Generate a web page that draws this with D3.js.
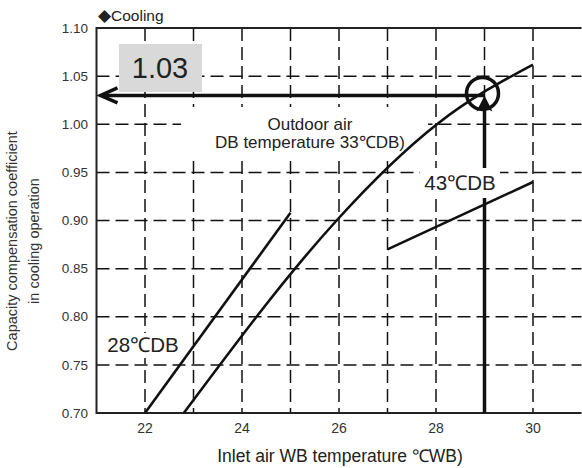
<!DOCTYPE html>
<html>
<head>
<meta charset="utf-8">
<script src="https://cdn.jsdelivr.net/npm/d3@7"></script>
<style>
  body { margin: 0; background: #fff; }
  text { font-family: "Liberation Sans", Arial, sans-serif; }
</style>
</head>
<body>
<div id="chart"></div>
<script>
// values
const xTicks = [22, 24, 26, 28, 30];
const xGrid = [22, 23, 24, 25, 26, 27, 28, 29, 30];
const yTicks = [0.70, 0.75, 0.80, 0.85, 0.90, 0.95, 1.00, 1.05, 1.10];
const curve28 = [[22, 0.70], [25, 0.908]];
const curve33 = [[22.8, 0.70], [24.3, 0.80], [25.95, 0.90], [28.02, 1.00], [30, 1.062]];
const curve43 = [[27, 0.870], [30, 0.940]];
const readWB = 29;
const readCoef = 1.03;

const width = 582, height = 468;

const svg = d3.select("#chart").append("svg")
	.attr("width", width)
	.attr("height", height);

const x = d3.scaleLinear().domain([21, 31]).range([96.5, 581.5]);
const y = d3.scaleLinear().domain([0.70, 1.10]).range([413, 28]);

// dashed grid
svg.append("g")
	.selectAll("line")
	.data(xGrid)
	.join("line")
	.attr("x1", d => x(d)).attr("x2", d => x(d))
	.attr("y1", y(1.10)).attr("y2", y(0.70))
	.attr("stroke", "#111")
	.attr("stroke-width", 1.5)
	.attr("stroke-dasharray", "13,6");

svg.append("g")
	.selectAll("line")
	.data(yTicks.filter(d => d > 0.70 && d < 1.10))
	.join("line")
	.attr("x1", x(21)).attr("x2", x(31))
	.attr("y1", d => y(d)).attr("y2", d => y(d))
	.attr("stroke", "#111")
	.attr("stroke-width", 1.5)
	.attr("stroke-dasharray", "13,6");

// frame: left, bottom, top
svg.append("path")
	.attr("d", `M${x(31)},${y(1.10)}H${x(21)}V${y(0.70)}H${x(31)}`)
	.attr("fill", "none")
	.attr("stroke", "#222")
	.attr("stroke-width", 2);

// tick labels
svg.append("g")
	.selectAll("text")
	.data(yTicks)
	.join("text")
	.attr("x", 88)
	.attr("y", d => y(d))
	.attr("dy", "0.35em")
	.attr("text-anchor", "end")
	.attr("fill", "#333")
	.style("font-size", "13.5px")
	.text(d3.format(".2f"));

svg.append("g")
	.selectAll("text")
	.data(xTicks)
	.join("text")
	.attr("x", d => x(d))
	.attr("y", 433)
	.attr("text-anchor", "middle")
	.attr("fill", "#333")
	.style("font-size", "14px")
	.text(d => d);

// reading arrows
const ax = x(readWB), ay = y(readCoef);
svg.append("line")
	.attr("x1", ax).attr("x2", ax)
	.attr("y1", y(0.70)).attr("y2", ay + 12)
	.attr("stroke", "#111").attr("stroke-width", 3.5);
svg.append("path")
	.attr("d", `M${ax},${ay}L${ax - 8},${ay + 16}L${ax},${ay + 12}L${ax + 8},${ay + 16}Z`)
	.attr("fill", "#111");

svg.append("line")
	.attr("x1", ax).attr("x2", x(21) + 5)
	.attr("y1", ay).attr("y2", ay)
	.attr("stroke", "#111").attr("stroke-width", 3.5);
svg.append("path")
	.attr("d", `M${x(21) + 21},${ay - 7.5}L${x(21) + 4},${ay}L${x(21) + 21},${ay + 7.5}`)
	.attr("fill", "none")
	.attr("stroke", "#111")
	.attr("stroke-width", 3.5);

// label boxes
svg.append("rect").attr("x", 181).attr("y", 107).attr("width", 247).attr("height", 54).attr("fill", "#fff");
svg.append("rect").attr("x", 420).attr("y", 168).attr("width", 80).attr("height", 30).attr("fill", "#fff");
svg.append("rect").attr("x", 104).attr("y", 333).attr("width", 78).attr("height", 25).attr("fill", "#fff");
svg.append("rect").attr("x", 119).attr("y", 44).attr("width", 83).attr("height", 48).attr("fill", "#d9d9d9");

svg.append("text")
	.attr("x", 160).attr("y", 78)
	.attr("text-anchor", "middle")
	.attr("fill", "#222")
	.style("font-size", "29px")
	.text("1.03");

const outdoor = svg.append("text")
	.attr("text-anchor", "middle")
	.attr("fill", "#222")
	.style("font-size", "17px");
outdoor.append("tspan").attr("x", 310).attr("y", 130).text("Outdoor air");
outdoor.append("tspan").attr("x", 310).attr("y", 148).text("DB temperature 33℃DB)");

svg.append("text")
	.attr("x", 460).attr("y", 190)
	.attr("text-anchor", "middle")
	.attr("fill", "#222")
	.style("font-size", "20.5px")
	.text("43℃DB");

svg.append("text")
	.attr("x", 143).attr("y", 352)
	.attr("text-anchor", "middle")
	.attr("fill", "#222")
	.style("font-size", "20.5px")
	.text("28℃DB");

// curves
const line = d3.line()
	.x(d => x(d[0]))
	.y(d => y(d[1]))
	.curve(d3.curveNatural);

[curve28, curve33, curve43].forEach(c => {
	svg.append("path")
		.datum(c)
		.attr("d", line)
		.attr("fill", "none")
		.attr("stroke", "#111")
		.attr("stroke-width", 2.6);
});

svg.append("circle")
	.attr("cx", ax - 2).attr("cy", ay - 2)
	.attr("r", 16)
	.attr("fill", "none")
	.attr("stroke", "#111")
	.attr("stroke-width", 3.5);

// titles
const cool = svg.append("text")
	.attr("x", 98).attr("y", 21)
	.attr("fill", "#222")
	.style("font-size", "15.5px");
cool.append("tspan").style("font-size", "17px").text("◆");
cool.append("tspan").text("Cooling");

svg.append("text")
	.attr("x", 340).attr("y", 462)
	.attr("text-anchor", "middle")
	.attr("fill", "#222")
	.style("font-size", "17.5px")
	.text("Inlet air WB temperature ℃WB)");

const ytitle = svg.append("text")
	.attr("transform", "translate(0,241) rotate(-90)")
	.attr("text-anchor", "middle")
	.attr("fill", "#333")
	.style("font-size", "14.5px");
ytitle.append("tspan").attr("x", 0).attr("y", 17).text("Capacity compensation coefficient");
ytitle.append("tspan").attr("x", 0).attr("y", 39).text("in cooling operation");
</script>
</body>
</html>
